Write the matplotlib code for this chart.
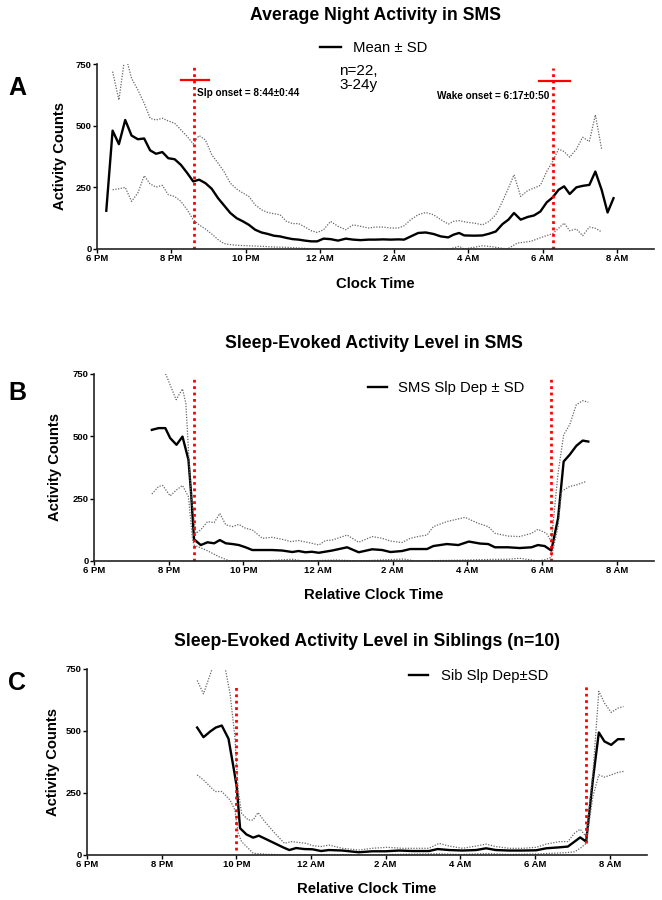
import matplotlib
matplotlib.use("Agg")
import matplotlib.pyplot as plt

plt.rcParams['font.family'] = ['Liberation Sans', 'DejaVu Sans']

# hours after 6 PM
tick_hours = [0, 2, 4, 6, 8, 10, 12, 14]
tick_labels = ['6 PM', '8 PM', '10 PM', '12 AM', '2 AM', '4 AM', '6 AM', '8 AM']
y_ticks = [0, 250, 500, 750]

# ---- Panel A: average night activity
a_mean_h = [0.25, 0.42, 0.59, 0.76, 0.93, 1.10, 1.27, 1.43, 1.59, 1.76, 1.92, 2.09, 2.26, 2.43,
            2.59, 2.75, 2.92, 3.09, 3.26, 3.42, 3.59, 3.76, 3.93, 4.09, 4.26, 4.43, 4.60, 4.76,
            4.93, 5.10, 5.27, 5.43, 5.60, 5.77, 5.93, 6.10, 6.29, 6.49, 6.70, 6.90, 7.10, 7.31,
            7.50, 7.71, 7.91, 8.11, 8.27, 8.45, 8.65, 8.85, 9.06, 9.26, 9.46, 9.60, 9.75, 9.89,
            10.16, 10.38, 10.56, 10.74, 10.92, 11.08, 11.23, 11.41, 11.60, 11.77, 11.94, 12.11,
            12.27, 12.43, 12.58, 12.73, 12.91, 13.08, 13.26, 13.42, 13.59, 13.75, 13.91]
a_mean = [155, 480, 425, 523, 460, 445, 448, 400, 386, 393, 368, 364, 341, 308,
          274, 281, 267, 244, 206, 177, 146, 125, 112, 98, 78, 67, 61, 54,
          51, 45, 40, 38, 34, 31, 31, 42, 40, 34, 42, 38, 36, 38,
          38, 39, 38, 39, 38, 51, 65, 67, 61, 51, 47, 58, 65, 55,
          54, 55, 62, 71, 101, 119, 146, 119, 130, 136, 152, 189,
          209, 240, 254, 223, 250, 256, 260, 314, 240, 148, 206]
a_up_h = [0.42, 0.59, 0.76, 0.93, 1.10, 1.27, 1.43, 1.59, 1.76, 1.92, 2.09, 2.26, 2.43, 2.59,
          2.75, 2.92, 3.09, 3.26, 3.42, 3.59, 3.76, 3.93, 4.09, 4.26, 4.43, 4.60, 4.76, 4.93,
          5.10, 5.27, 5.43, 5.60, 5.77, 5.93, 6.10, 6.29, 6.49, 6.70, 6.90, 7.10, 7.31, 7.50,
          7.71, 7.91, 8.11, 8.27, 8.45, 8.65, 8.85, 9.06, 9.26, 9.46, 9.60, 9.75, 9.97, 10.16,
          10.38, 10.56, 10.74, 10.92, 11.08, 11.23, 11.41, 11.60, 11.77, 11.94, 12.11, 12.27,
          12.43, 12.58, 12.73, 12.91, 13.08, 13.26, 13.42, 13.59]
a_up = [719, 604, 790, 692, 645, 591, 530, 523, 530, 519, 510, 483, 456, 426,
        460, 442, 382, 348, 314, 267, 243, 227, 213, 179, 159, 148, 143, 139,
        112, 103, 103, 89, 74, 67, 78, 112, 92, 78, 98, 92, 85, 89,
        89, 85, 85, 94, 119, 139, 148, 139, 119, 101, 112, 115, 108, 105,
        98, 112, 139, 193, 247, 301, 213, 237, 247, 258, 314, 355,
        405, 395, 372, 405, 453, 436, 544, 405]
a_lo_h = [0.42, 0.59, 0.76, 0.93, 1.10, 1.27, 1.43, 1.59, 1.76, 1.92, 2.09, 2.26, 2.43, 2.59,
          2.75, 2.92, 3.09, 3.26, 3.42, 3.59, 3.76, 4.09, 4.43, 4.76, 5.10, 5.43, 5.77, 6.10,
          7.00, 8.00, 9.50, 9.75, 9.89, 10.38, 10.60, 11.05, 11.32, 11.68, 12.04, 12.27, 12.58,
          12.73, 12.91, 13.08, 13.26, 13.42, 13.57]
a_lo = [240, 244, 250, 193, 227, 297, 264, 251, 258, 220, 213, 193, 159, 119,
        98, 81, 61, 38, 22, 18, 15, 13, 11, 8, 7, 4, 1, 0,
        0, 0, 0, 11, 0, 13, 10, 0, 24, 31, 51, 62, 105,
        74, 81, 54, 89, 84, 71]
a_sleep, a_wake = 2.62, 12.29
a_sleep_bar = (2.26, 3.02)
a_wake_bar = (11.89, 12.73)

# ---- Panel B: sleep-evoked activity, SMS
b_mean_h = [1.55, 1.73, 1.91, 2.04, 2.21, 2.37, 2.53, 2.60, 2.68, 2.86, 3.04, 3.22, 3.37, 3.53,
            3.71, 3.88, 4.06, 4.24, 4.51, 4.77, 5.04, 5.31, 5.48, 5.66, 5.84, 6.02, 6.38, 6.78,
            7.09, 7.45, 7.72, 7.94, 8.25, 8.47, 8.92, 9.09, 9.45, 9.76, 10.04, 10.34, 10.56,
            10.74, 11.09, 11.40, 11.72, 11.89, 12.07, 12.25, 12.43, 12.58, 12.74, 12.92, 13.09,
            13.24]
b_mean = [526, 533, 533, 493, 466, 499, 406, 272, 87, 64, 75, 71, 84, 71,
          68, 64, 55, 44, 44, 44, 42, 36, 40, 35, 37, 33, 42, 55,
          35, 47, 44, 36, 40, 48, 48, 60, 68, 64, 78, 70, 68,
          55, 55, 52, 55, 64, 60, 42, 171, 399, 426, 462, 483,
          479]
b_up_h = [1.55, 1.73, 1.93, 2.20, 2.37, 2.46, 2.60, 2.73, 2.86, 3.04, 3.22, 3.37, 3.53, 3.71,
          3.88, 4.06, 4.24, 4.51, 4.77, 5.04, 5.26, 5.48, 5.84, 6.02, 6.20, 6.38, 6.78, 7.09,
          7.45, 7.72, 7.94, 8.25, 8.47, 8.74, 8.92, 9.09, 9.45, 9.94, 10.29, 10.56, 10.74,
          11.09, 11.40, 11.72, 11.89, 12.12, 12.25, 12.43, 12.58, 12.74, 12.92, 13.09, 13.24]
b_up = [820, 790, 747, 647, 690, 633, 258, 111, 125, 158, 154, 191, 145, 138,
        147, 131, 125, 91, 95, 87, 78, 82, 71, 64, 82, 84, 104, 75,
        98, 91, 80, 74, 91, 100, 104, 138, 158, 175, 151, 138, 111,
        100, 98, 111, 127, 111, 78, 352, 506, 546, 627, 643, 637]
b_lo_h = [1.55, 1.73, 1.84, 2.04, 2.21, 2.37, 2.53, 2.64, 2.68, 3.00, 3.35, 3.62, 4.50, 5.31,
          5.60, 6.50, 7.10, 8.30, 8.60, 10.00, 10.50, 11.10, 11.40, 11.90, 12.10, 12.25, 12.43,
          12.52, 12.74, 12.92, 13.18]
b_lo = [269, 299, 303, 261, 285, 303, 258, 84, 64, 44, 17, 1, 0, 7,
        0, 4, 0, 8, 0, 4, 6, 7, 11, 0, 6, 15, 138,
        279, 299, 305, 319]
b_sleep, b_wake = 2.67, 12.25

# ---- Panel C: sleep-evoked activity, siblings
c_mean_h = [2.95, 3.12, 3.30, 3.45, 3.61, 3.79, 3.92, 4.01, 4.10, 4.27, 4.45, 4.60, 4.81, 5.03,
            5.25, 5.42, 5.60, 5.82, 6.04, 6.27, 6.48, 6.84, 7.28, 7.64, 8.00, 8.36, 8.72, 9.16,
            9.39, 9.70, 10.06, 10.42, 10.69, 10.95, 11.31, 11.67, 12.03, 12.30, 12.66, 12.88,
            13.06, 13.21, 13.37, 13.55, 13.71, 13.86, 14.04, 14.22, 14.37]
c_mean = [514, 475, 498, 514, 522, 469, 357, 276, 108, 83, 70, 78, 63, 47,
          31, 20, 28, 24, 23, 16, 20, 18, 11, 15, 15, 18, 16, 16,
          24, 20, 18, 20, 27, 20, 18, 18, 19, 27, 31, 34,
          54, 71, 54, 303, 494, 458, 444, 467, 467]
c_up_h = [2.95, 3.12, 3.35, 3.50, 3.70, 3.83, 3.96, 4.05, 4.14, 4.32, 4.45, 4.58, 4.76, 5.03,
          5.29, 5.47, 5.65, 5.87, 6.04, 6.27, 6.48, 6.84, 7.28, 7.64, 8.04, 8.45, 8.81, 9.16,
          9.43, 9.70, 10.06, 10.42, 10.69, 10.95, 11.31, 11.67, 12.03, 12.30, 12.66, 12.88,
          13.06, 13.21, 13.37, 13.55, 13.71, 13.86, 14.04, 14.22, 14.37]
c_up = [704, 650, 750, 820, 754, 653, 478, 262, 168, 141, 141, 171, 135, 88,
        47, 54, 51, 47, 38, 34, 40, 27, 20, 27, 31, 27, 27, 27,
        47, 36, 27, 36, 44, 34, 27, 27, 31, 44, 54, 54,
        88, 104, 74, 330, 660, 613, 575, 592, 599]
c_lo_h = [2.95, 3.12, 3.43, 3.61, 3.83, 3.96, 4.05, 4.14, 4.32, 4.45, 4.80, 5.50, 6.50, 7.50,
          8.50, 9.40, 10.00, 10.70, 11.30, 12.00, 12.66, 12.88, 13.06, 13.21, 13.37, 13.55,
          13.71, 13.86, 14.04, 14.22, 14.37]
c_lo = [323, 303, 256, 256, 222, 182, 88, 54, 27, 7, 3, 0, 2, 0,
        3, 5, 2, 6, 2, 4, 8, 10, 13, 27, 47, 236,
        323, 314, 323, 333, 337]
c_sleep, c_wake = 4.0, 13.37

W, H = 662, 900
fig = plt.figure(figsize=(W / 100, H / 100), dpi=100)


def rect(left, right, y0, y750):
    return [left / W, 1 - y0 / H, (right - left) / W, (y0 - y750) / H]


def style(ax, xlabel, ylab_x, xlab_y):
    ax.set_xlim(0, 15)
    ax.set_ylim(0, 750)
    ax.set_xticks(tick_hours)
    ax.set_xticklabels(tick_labels)
    ax.set_yticks(y_ticks)
    for s in ['top', 'right']:
        ax.spines[s].set_visible(False)
    for s in ['left', 'bottom']:
        ax.spines[s].set_linewidth(1.2)
        ax.spines[s].set_color('#222222')
    ax.tick_params(axis='x', length=3, width=1, pad=0.5, labelsize=6.8)
    ax.tick_params(axis='y', length=3, width=1, pad=1, labelsize=6.8)
    for lab in ax.get_xticklabels() + ax.get_yticklabels():
        lab.set_fontweight('bold')
    ax.set_ylabel('Activity Counts', fontsize=10.6, fontweight='bold')
    ax.set_xlabel(xlabel, fontsize=10.7, fontweight='bold', va='top')
    ax.yaxis.set_label_coords(ylab_x, 0.5)
    ax.xaxis.set_label_coords(0.5, xlab_y)


def draw(ax, mh, m, uh, u, lh, lo, label):
    ax.plot(mh, m, color='black', lw=1.7, label=label)
    ax.plot(uh, u, color='#666666', lw=0.9, ls=(0, (1, 1.2)))
    ax.plot(lh, lo, color='#666666', lw=0.9, ls=(0, (1, 1.2)))


red_dots = dict(color='red', lw=2, ls=(0, (1, 1.3)))

# Panel A
axA = fig.add_axes(rect(97, 654, 249, 64))
draw(axA, a_mean_h, a_mean, a_up_h, a_up, a_lo_h, a_lo, 'Mean \u00b1 SD')
axA.plot([a_sleep, a_sleep], [0, 745], **red_dots)
axA.plot([a_wake, a_wake], [0, 733], **red_dots)
axA.plot(a_sleep_bar, [685, 685], color='red', lw=1.6)
axA.plot(a_wake_bar, [683, 683], color='red', lw=1.6)
axA.text(2.68, 631, 'Slp onset = 8:44\u00b10:44', fontsize=7.2, fontweight='bold', va='center', ha='left')
axA.text(12.18, 620, 'Wake onset = 6:17\u00b10:50', fontsize=7.2, fontweight='bold', va='center', ha='right')
style(axA, 'Clock Time', -0.054, -0.151)
axA.legend(loc='center left', bbox_to_anchor=(320 / W, 1 - 48 / H), bbox_transform=fig.transFigure,
           frameon=False, fontsize=10.7, handlelength=1.4, handletextpad=0.8, borderpad=0, borderaxespad=0)
fig.text(339 / W, 1 - 78 / H, 'n=22,\n3-24y', fontsize=11, va='center', ha='left', linespacing=1.05)
fig.text(375.5 / W, 1 - 16 / H, 'Average Night Activity in SMS', fontsize=12.7, fontweight='bold',
         ha='center', va='center')
fig.text(17 / W, 1 - 88 / H, 'A', fontsize=18, fontweight='bold', ha='center', va='center')

# Panel B
axB = fig.add_axes(rect(94, 654, 561, 374))
draw(axB, b_mean_h, b_mean, b_up_h, b_up, b_lo_h, b_lo, 'SMS Slp Dep \u00b1 SD')
axB.plot([b_sleep, b_sleep], [0, 740], **red_dots)
axB.plot([b_wake, b_wake], [0, 740], **red_dots)
style(axB, 'Relative Clock Time', -0.057, -0.144)
axB.legend(loc='center left', bbox_to_anchor=(368 / W, 1 - 388 / H), bbox_transform=fig.transFigure,
           frameon=False, fontsize=10.7, handlelength=1.25, handletextpad=0.8, borderpad=0, borderaxespad=0)
fig.text(374 / W, 1 - 343 / H, 'Sleep-Evoked Activity Level in SMS', fontsize=12.7, fontweight='bold',
         ha='center', va='center')
fig.text(17 / W, 1 - 393 / H, 'B', fontsize=18, fontweight='bold', ha='center', va='center')

# Panel C
axC = fig.add_axes(rect(87, 647, 855, 669))
draw(axC, c_mean_h, c_mean, c_up_h, c_up, c_lo_h, c_lo, 'Sib Slp Dep\u00b1SD')
axC.plot([c_sleep, c_sleep], [20, 680], **red_dots)
axC.plot([c_wake, c_wake], [47, 680], **red_dots)
style(axC, 'Relative Clock Time', -0.048, -0.145)
axC.legend(loc='center left', bbox_to_anchor=(409 / W, 1 - 676 / H), bbox_transform=fig.transFigure,
           frameon=False, fontsize=10.7, handlelength=1.3, handletextpad=0.85, borderpad=0, borderaxespad=0)
fig.text(367 / W, 1 - 642 / H, 'Sleep-Evoked Activity Level in Siblings (n=10)', fontsize=12.7,
         fontweight='bold', ha='center', va='center')
fig.text(17 / W, 1 - 683 / H, 'C', fontsize=18, fontweight='bold', ha='center', va='center')

fig.savefig('out.png', dpi=100)
